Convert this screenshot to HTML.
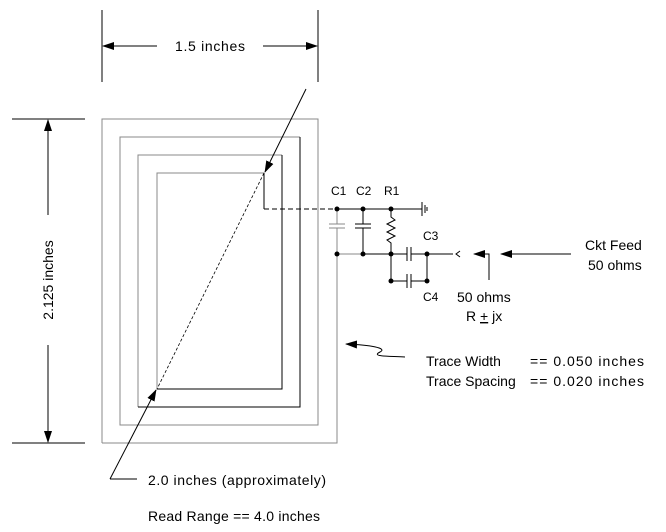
<!DOCTYPE html>
<html><head><meta charset="utf-8"><style>
html,body{margin:0;padding:0;background:#fff}
svg{display:block}
text{font-family:"Liberation Sans",sans-serif;fill:#000}
</style></head><body>
<svg width="666" height="532" viewBox="0 0 666 532" xmlns="http://www.w3.org/2000/svg">
<defs>
<marker id="ah" markerWidth="12" markerHeight="8" refX="11" refY="4" orient="auto" markerUnits="userSpaceOnUse">
<path d="M0,0 L12,4 L0,8 Z" fill="#000"/></marker>
</defs>
<g stroke="#000" stroke-width="1" fill="none">
<line x1="102" y1="10" x2="102" y2="82"/>
<line x1="318" y1="10" x2="318" y2="82"/>
<line x1="157" y1="46" x2="103" y2="46" marker-end="url(#ah)"/>
<line x1="263" y1="46" x2="317" y2="46" marker-end="url(#ah)"/>
<line x1="12" y1="119" x2="85" y2="119"/>
<line x1="12" y1="443" x2="85" y2="443"/>
<line x1="48" y1="215" x2="48" y2="120" marker-end="url(#ah)"/>
<line x1="48" y1="345" x2="48" y2="442" marker-end="url(#ah)"/>
<g stroke="#888">
<polyline points="102,443 102,119 318,119 318,425 120,425 120,137 300,137"/>
<polyline points="138,407 138,155 282,155"/>
<polyline points="157,389 157,173 264,173"/>
<polyline points="102,443 337,443 337,254"/>
</g>
<polyline points="300,137 300,407 138,407"/>
<polyline points="282,155 282,389 157,389"/>
<polyline points="264,173 264,209"/>
<line x1="264" y1="209" x2="337" y2="209" stroke-dasharray="5,3"/>
<line x1="306" y1="89" x2="265" y2="172" marker-end="url(#ah)"/>
<line x1="264" y1="173" x2="157" y2="389" stroke-dasharray="3,2" stroke-width="0.8"/>
<polyline points="137,479 110,479"/>
<line x1="110" y1="479" x2="156" y2="390" marker-end="url(#ah)"/>
<line x1="337" y1="209" x2="422" y2="209"/>
<line x1="422" y1="202" x2="422" y2="216"/>
<line x1="425" y1="205" x2="425" y2="213"/>
<line x1="427" y1="207" x2="427" y2="211"/>
<g stroke="#888"><line x1="337" y1="209" x2="337" y2="224"/><line x1="329" y1="224" x2="345" y2="224"/><line x1="329" y1="228" x2="345" y2="228"/><line x1="337" y1="228" x2="337" y2="254"/><line x1="337" y1="254" x2="363" y2="254"/></g>
<line x1="363" y1="209" x2="363" y2="224"/><line x1="355" y1="224" x2="371" y2="224"/><line x1="355" y1="228" x2="371" y2="228"/><line x1="363" y1="228" x2="363" y2="254"/>
<polyline points="391,209 391,217 395,220 387,224 395,228 387,232 395,236 387,240 391,243 391,281"/>
<line x1="363" y1="254" x2="407" y2="254"/><line x1="407" y1="247" x2="407" y2="261"/><line x1="411" y1="247" x2="411" y2="261"/><line x1="411" y1="254" x2="453" y2="254"/>
<polyline points="460,251 456,254 460,257"/>
<line x1="391" y1="281" x2="407" y2="281"/><line x1="407" y1="274" x2="407" y2="288"/><line x1="411" y1="274" x2="411" y2="288"/><line x1="411" y1="281" x2="427" y2="281"/><line x1="427" y1="254" x2="427" y2="281"/>
<polyline points="489,280 489,254 474,254" marker-end="url(#ah)"/>
<line x1="571" y1="254" x2="501" y2="254" marker-end="url(#ah)"/>
<path d="M405,357 C390,356 370,357 380,352 C388,348 370,345 346,344" marker-end="url(#ah)"/>
</g>
<g fill="#000">
<circle cx="337" cy="209" r="2.5"/><circle cx="363" cy="209" r="2.5"/><circle cx="391" cy="209" r="2.5"/>
<circle cx="337" cy="254" r="2.5"/><circle cx="363" cy="254" r="2.5"/><circle cx="391" cy="254" r="2.5"/><circle cx="427" cy="254" r="2.5"/>
<circle cx="391" cy="281" r="2.5"/><circle cx="427" cy="281" r="2.5"/>
</g>
<g font-size="14">
<text x="175" y="51" textLength="70">1.5 inches</text>
<text transform="translate(53,280) rotate(-90)" text-anchor="middle">2.125 inches</text>
<text x="148" y="485" textLength="178">2.0 inches (approximately)</text>
<text x="148" y="521" textLength="172">Read Range == 4.0 inches</text>
<text x="426" y="366">Trace Width</text><text x="530" y="366" textLength="114">==  0.050 inches</text>
<text x="426" y="386">Trace Spacing</text><text x="530" y="386" textLength="114">==  0.020 inches</text>
<text x="585" y="250">Ckt Feed</text>
<text x="588" y="270">50 ohms</text>
<text x="457" y="302">50 ohms</text>
<text x="466" y="321">R <tspan text-decoration="underline">+</tspan> jx</text>
</g>
<g font-size="12">
<text x="331" y="195">C1</text><text x="356" y="195">C2</text><text x="384" y="195">R1</text>
<text x="423" y="240">C3</text><text x="423" y="301">C4</text>
</g>
</svg>
</body></html>
